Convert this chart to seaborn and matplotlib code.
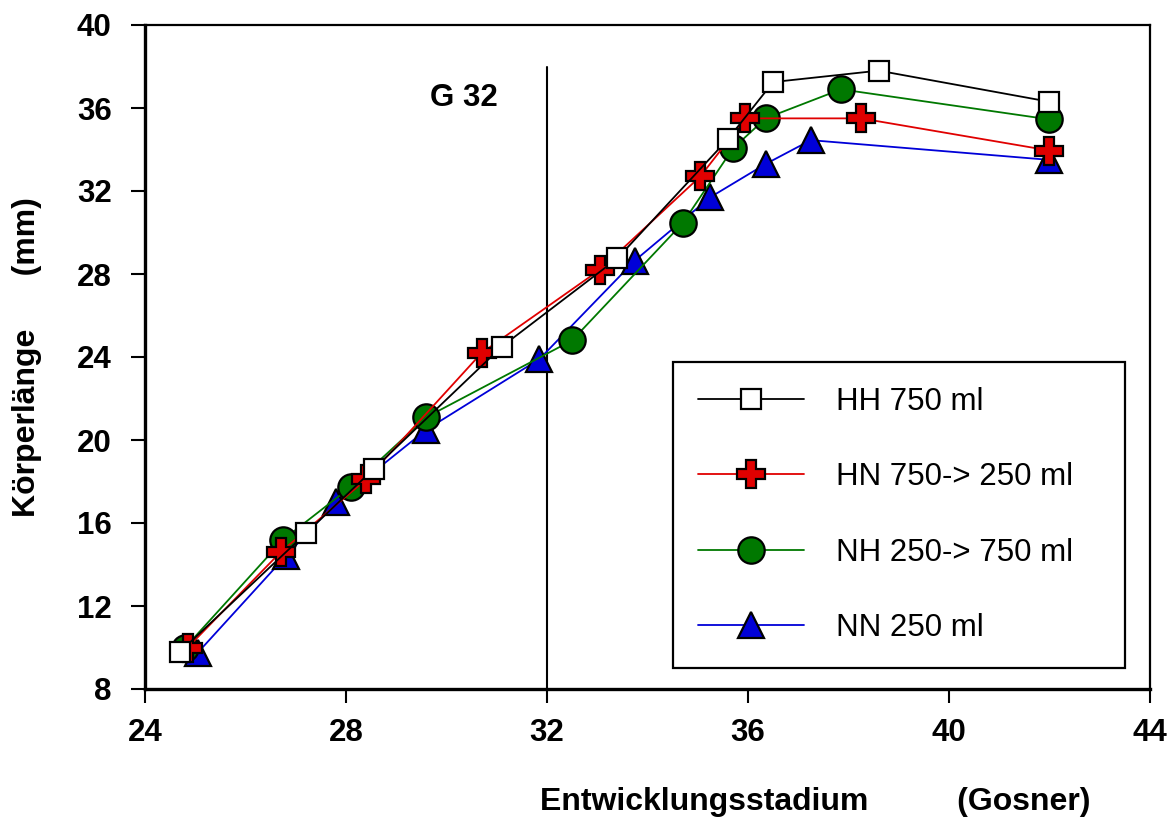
import matplotlib
matplotlib.use("Agg")
import matplotlib.pyplot as plt
import pandas as pd
import seaborn as sns

# Body length (mm) against Gosner developmental stage for four rearing regimes
hh_stage = [24.7, 27.2, 28.55, 31.1, 33.4, 35.6, 36.5, 38.6, 42.0]
hh_length = [9.8, 15.5, 18.6, 24.5, 28.75, 34.5, 37.25, 37.8, 36.3]

hn_stage = [24.85, 26.7, 28.4, 30.7, 33.05, 35.05, 35.95, 38.25, 42.0]
hn_length = [10.0, 14.6, 18.1, 24.2, 28.2, 32.7, 35.5, 35.5, 33.95]

nh_stage = [24.8, 26.75, 28.1, 29.6, 32.5, 34.7, 35.7, 36.35, 37.85, 42.0]
nh_length = [10.0, 15.2, 17.75, 21.1, 24.8, 30.45, 34.05, 35.5, 36.9, 35.45]

nn_stage = [25.05, 26.8, 27.8, 29.6, 31.85, 33.75, 35.25, 36.35, 37.25, 42.0]
nn_length = [9.75, 14.4, 17.0, 20.5, 23.9, 28.65, 31.7, 33.3, 34.45, 33.5]

series_labels = ["HH 750 ml", "HN 750-> 250 ml", "NH 250-> 750 ml", "NN 250 ml"]

x_ticks = [24, 28, 32, 36, 40, 44]
y_ticks = [8, 12, 16, 20, 24, 28, 32, 36, 40]
marker_stage = 32
marker_text = "G 32"

sns.set_style("white")
plt.rcParams["font.family"] = ["Liberation Sans", "DejaVu Sans"]
plt.rcParams["text.color"] = "black"
plt.rcParams["axes.labelcolor"] = "black"
plt.rcParams["xtick.color"] = "black"
plt.rcParams["ytick.color"] = "black"

FS = 22.5

fig = plt.figure(figsize=(11.68, 8.18), dpi=100)
ax = fig.add_axes([145 / 1168, 1 - 689 / 818, 1005 / 1168, 664 / 818])

styles = {
    "HH 750 ml": dict(color="black", marker="s", markerfacecolor="white", markersize=15),
    "HN 750-> 250 ml": dict(color="#e00000", marker="P", markerfacecolor="#e00000", markersize=20),
    "NH 250-> 750 ml": dict(color="#007800", marker="o", markerfacecolor="#007800", markersize=19),
    "NN 250 ml": dict(color="#0000d8", marker="^", markerfacecolor="#0000d8", markersize=19),
}
data = {
    "HH 750 ml": (hh_stage, hh_length),
    "HN 750-> 250 ml": (hn_stage, hn_length),
    "NH 250-> 750 ml": (nh_stage, nh_length),
    "NN 250 ml": (nn_stage, nn_length),
}

# draw bottom-most series first so HH sits on top
for name in reversed(series_labels):
    xs, ys = data[name]
    df = pd.DataFrame({"stage": xs, "length": ys})
    st = styles[name]
    sns.lineplot(data=df, x="stage", y="length", ax=ax, label=name,
                 color=st["color"], marker=st["marker"],
                 markerfacecolor=st["markerfacecolor"],
                 markersize=st["markersize"], markeredgecolor="black",
                 markeredgewidth=1.6, linewidth=1.3, estimator=None,
                 sort=False)

# reference line at stage G 32
ax.plot([marker_stage, marker_stage], [8, 38], color="black", linewidth=1.5, zorder=1)
ax.text(30.35, 36.5, marker_text, fontsize=FS, fontweight="bold",
        ha="center", va="center")

ax.set_xlim(24, 44)
ax.set_ylim(8, 40)
ax.set_xticks(x_ticks)
ax.set_yticks(y_ticks)
ax.set_xticklabels([str(v) for v in x_ticks], fontsize=FS, fontweight="bold")
ax.set_yticklabels([str(v) for v in y_ticks], fontsize=FS, fontweight="bold")
ax.tick_params(axis="both", direction="out", length=10, width=1.5,
               color="black", bottom=True, left=True)
ax.tick_params(axis="x", pad=11)
ax.tick_params(axis="y", pad=14)

for side in ["left", "bottom"]:
    ax.spines[side].set_linewidth(2.4)
for side in ["top", "right"]:
    ax.spines[side].set_linewidth(1.6)
for sp in ax.spines.values():
    sp.set_color("black")
    sp.set_visible(True)

ax.set_xlabel("Entwicklungsstadium          (Gosner)", fontsize=23, fontweight="bold")
ax.xaxis.set_label_coords(0.667, -0.148)
ax.set_ylabel("Körperlänge      (mm)", fontsize=23, fontweight="bold")
ax.yaxis.set_label_coords(-0.102, 0.5)

handles, labels = ax.get_legend_handles_labels()
order = [labels.index(n) for n in series_labels]
leg = ax.legend([handles[i] for i in order], [labels[i] for i in order],
                loc="upper left", bbox_to_anchor=(0.5254, 0.0286, 0.4498, 0.4639),
                mode="expand", borderaxespad=0, fontsize=FS, frameon=True,
                fancybox=False, handlelength=3.4, handletextpad=1.0,
                labelspacing=1.45, borderpad=0.8, markerscale=1.0)
leg.get_frame().set_edgecolor("black")
leg.get_frame().set_linewidth(1.6)
leg.get_frame().set_alpha(1)

fig.savefig("out.png", dpi=100)
